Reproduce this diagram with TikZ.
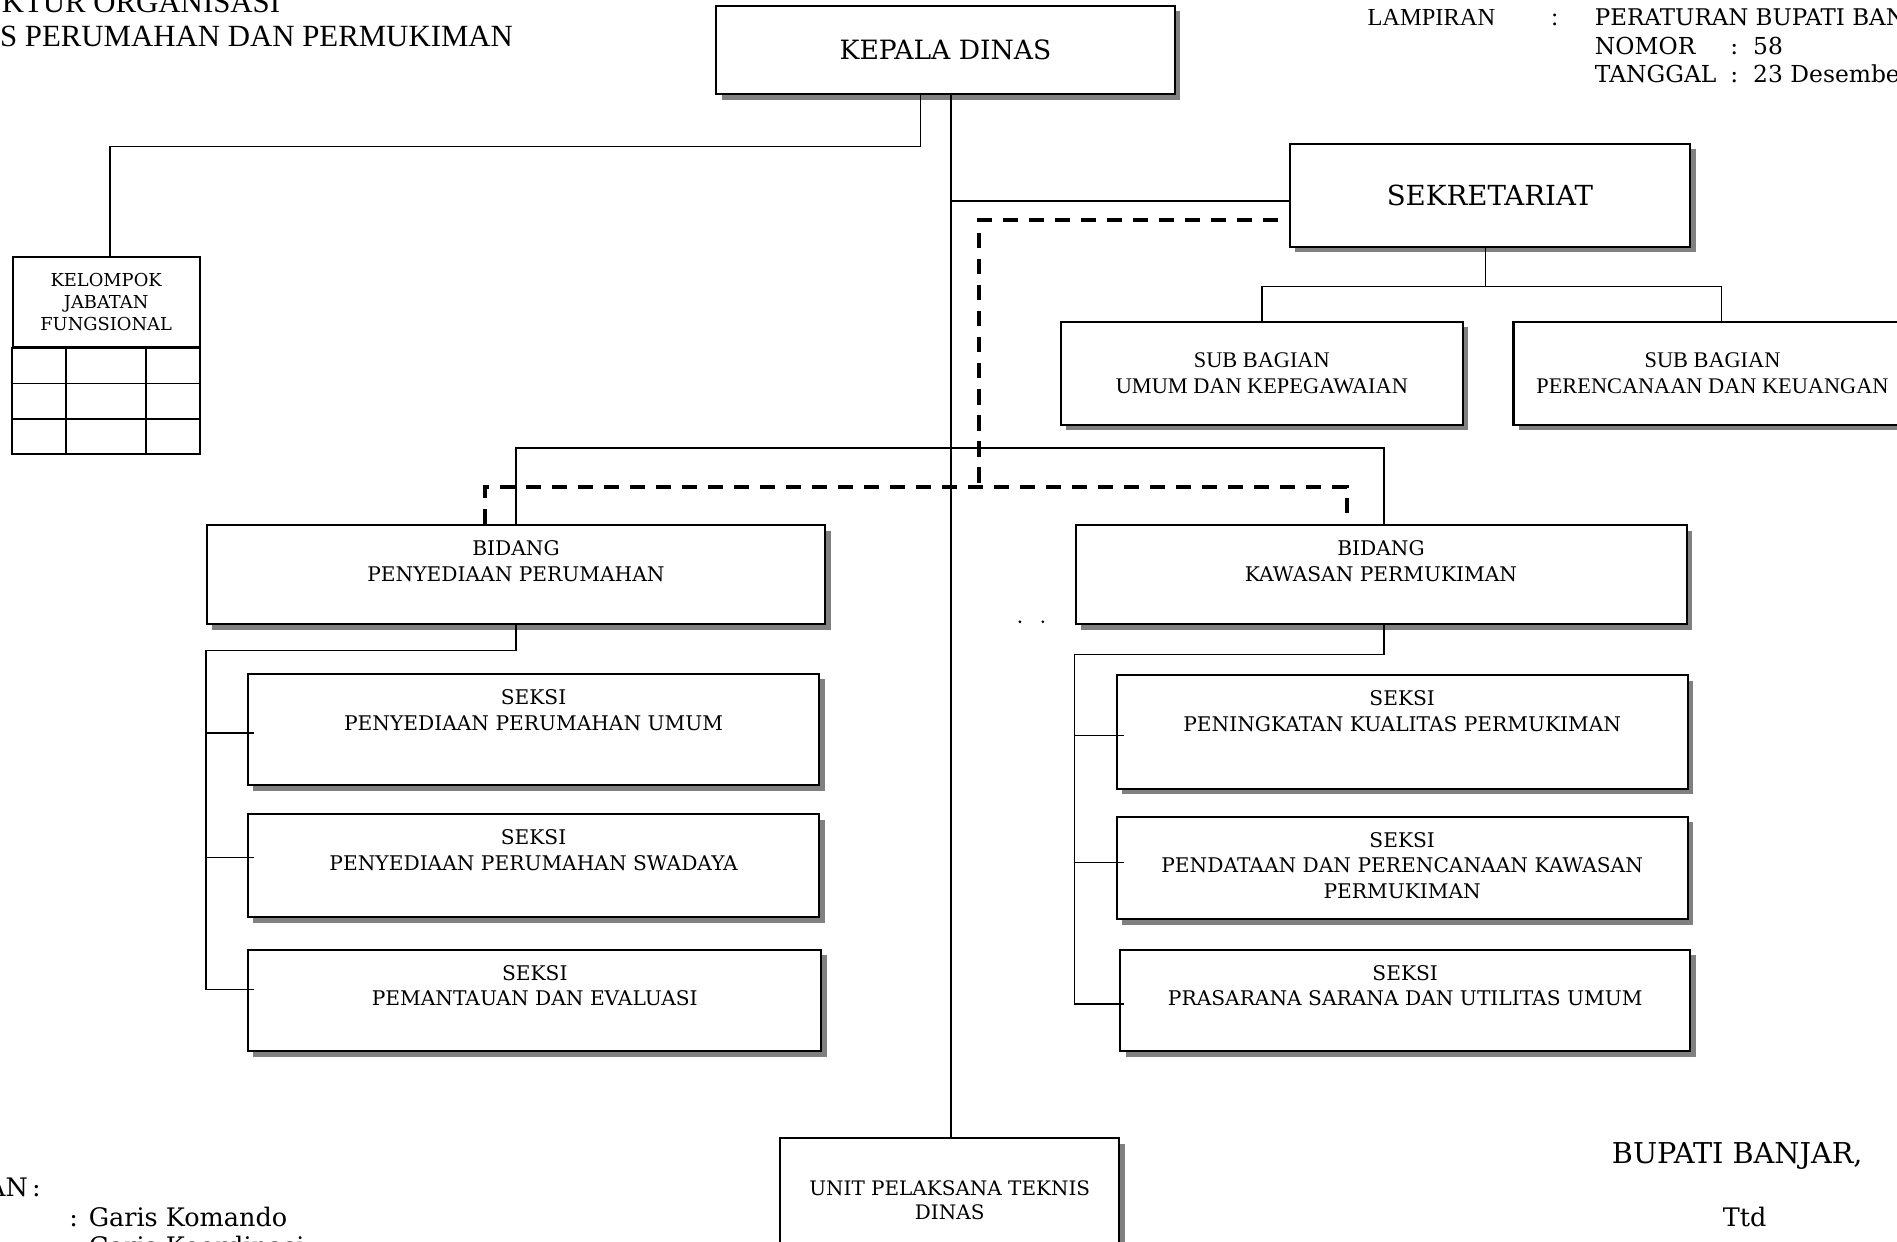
\documentclass[tikz,border=0pt]{standalone}
\usepackage{fontspec}
\setmainfont{DejaVu Serif}
\newfontfamily\timesfont{Liberation Serif}
\usetikzlibrary{positioning,shadows}

\tikzset{
    unitkerja/.style={draw, line width=0.95pt, fill=white, inner sep=0pt,
        drop shadow={shadow xshift=0.9mm, shadow yshift=-0.9mm, fill=black!50, opacity=1}},
    komando/.style={line width=0.65pt},
    koordinasi/.style={line width=1.9pt, dash pattern=on 2.5mm off 1.8mm},
    isi/.style={align=center, inner sep=0pt, font=\fontsize{9.5}{12}\selectfont},
    teks/.style={anchor=base west, inner sep=0pt},
}

\begin{document}
\begin{tikzpicture}[x=0.2mm, y=-0.2mm]
    \path[use as bounding box, fill=white] (0,0) rectangle (1568,1026);
    %% judul dan lampiran
    \node[teks, font=\timesfont\fontsize{14.5}{16}\selectfont] (judul) at (-64,10.5) {STRUKTUR ORGANISASI};
    \node[teks, font=\timesfont\fontsize{14.5}{16}\selectfont] (dinas) at (-64,38.5) {DINAS PERUMAHAN DAN PERMUKIMAN};
    \node[teks, font=\timesfont\fontsize{11.5}{14}\selectfont] (lampiran) at (1130,21) {LAMPIRAN};
    \node[teks, font=\timesfont\fontsize{11.5}{14}\selectfont] (lampiranttk) at (1282,21) {:};
    \node[teks, font=\fontsize{10.8}{13}\selectfont] (perbup) at (1318,21) {PERATURAN BUPATI BANJAR};
    \node[teks, font=\fontsize{11}{13}\selectfont] (nomor) at (1318,45) {NOMOR};
    \node[teks, font=\fontsize{11}{13}\selectfont] (nomorisi) at (1430,45) {:\ \ 58};
    \node[teks, font=\fontsize{11}{13}\selectfont] (tanggal) at (1318,68) {TANGGAL};
    \node[teks, font=\fontsize{11}{13}\selectfont] (tanggalisi) at (1430,68) {:\ \ 23 Desember 2016};

    %% kepala dinas, sekretariat, sub bagian
    \node[unitkerja, minimum width=75.8mm, minimum height=14.6mm, font=\fontsize{12.5}{15}\selectfont] (kadis) at (781.5,41.5) {KEPALA DINAS};
    \node[unitkerja, minimum width=66.2mm, minimum height=17mm, font=\fontsize{13}{15}\selectfont] (sekre) at (1231.5,161.5) {SEKRETARIAT};
    \node[unitkerja, minimum width=66.4mm, minimum height=17mm, align=center, font=\timesfont\fontsize{10.5}{12.5}\selectfont] (subumum) at (1043,308.5) {SUB BAGIAN\\UMUM DAN KEPEGAWAIAN};
    \node[unitkerja, minimum width=65.8mm, minimum height=17mm, align=center, font=\timesfont\fontsize{10.5}{12.5}\selectfont] (subren) at (1415.5,308.5) {SUB BAGIAN\\PERENCANAAN DAN KEUANGAN};

    %% kelompok jabatan fungsional
    \node[draw, line width=0.9pt, minimum width=30.9mm, minimum height=14.9mm, align=center, inner sep=0pt, font=\fontsize{8.4}{10.2}\selectfont] (jafung) at (87.75,249.75) {KELOMPOK\\JABATAN\\FUNGSIONAL};
    \draw[line width=0.9pt] (jafung.south west) rectangle (165,375);
    \foreach \y in {317,346} \draw[line width=0.9pt] (10.5,\y) -- (165,\y);
    \foreach \x in {54.6,120.7} \draw[line width=0.9pt] (\x,287) -- (\x,375);

    %% bidang dan seksi
    \foreach \nama/\x/\y/\w/\h/\isi in {
        bidpp/426.5/475/102.2/16.4/{BIDANG\\PENYEDIAAN PERUMAHAN},
        bidkp/1141.5/475/101/16.4/{BIDANG\\KAWASAN PERMUKIMAN},
        pumum/441/603/94.4/18.4/{SEKSI\\PENYEDIAAN PERUMAHAN UMUM},
        pswadaya/441/715.5/94.4/17/{SEKSI\\PENYEDIAAN PERUMAHAN SWADAYA},
        evaluasi/442/827/94.8/16.8/{SEKSI\\PEMANTAUAN DAN EVALUASI},
        kualitas/1159/605/94.4/18.8/{SEKSI\\PENINGKATAN KUALITAS PERMUKIMAN},
        pendataan/1159/717.5/94.4/17/{SEKSI\\PENDATAAN DAN PERENCANAAN KAWASAN\\PERMUKIMAN},
        psu/1161.5/827/94.2/16.8/{SEKSI\\PRASARANA SARANA DAN UTILITAS UMUM}} {
        \node[unitkerja, minimum width=\w mm, minimum height=\h mm] (\nama) at (\x,\y) {};
        \node[isi, below=2.7mm of \nama.north] (\nama-isi) {\isi};
    }

    %% unit pelaksana teknis
    \node[unitkerja, minimum width=56mm, minimum height=20.4mm, align=center, font=\fontsize{9.4}{11.5}\selectfont] (upt) at (785,992) {UNIT PELAKSANA TEKNIS\\DINAS};

    %% garis komando
    \coordinate (trunk) at (786,0);
    \draw[komando] (trunk |- kadis.south) -- (trunk |- upt.north);
    \draw[komando] ([xshift=-4.1mm]kadis.south) -- ++(0,42) -| ([xshift=0.65mm]jafung.north);
    \draw[komando] (trunk |- 0,166) -- (sekre.west |- 0,166);
    \draw[komando] ([xshift=-0.7mm]sekre.south) -- ++(0,32) coordinate (sj);
    \draw[komando] (subumum.north) |- (sj) -| ([xshift=1.5mm]subren.north);
    \draw[komando] (bidpp.north) -- ++(0,-63) -| ([xshift=0.5mm]bidkp.north);
    \draw[komando] (bidpp.south) -- ++(0,21) -| (bidpp.west |- 0,818) -- ++(40,0);
    \foreach \y in {606,709} \draw[komando] (bidpp.west |- 0,\y) -- ++(40,0);
    \draw[komando] ([xshift=0.5mm]bidkp.south) -- ++(0,24) -| (bidkp.west |- 0,830) -- ++(41,0);
    \foreach \y in {608,713} \draw[komando] (bidkp.west |- 0,\y) -- ++(41,0);

    %% garis koordinasi
    \draw[koordinasi] ([xshift=-1.8mm,yshift=-4.1mm]sekre.west) -| (809,403);
    \draw[koordinasi] ([xshift=-5.1mm]bidpp.north) -- ++(0,-31) -| ([xshift=-5.7mm]bidkp.north);

    \foreach \x in {843,862} \fill (\x,514) circle (0.25mm);

    %% keterangan dan tanda tangan
    \node[anchor=base east, inner sep=0pt, font=\fontsize{12}{14}\selectfont] (ket) at (34,989) {KETERANGAN\,:};
    \node[teks, font=\fontsize{12}{14}\selectfont] (gkomando) at (57,1014) {: Garis Komando};
    \node[teks, font=\fontsize{12}{14}\selectfont] (gkoordinasi) at (57,1038) {: Garis Koordinasi};
    \node[teks, font=\fontsize{13.5}{16}\selectfont] (bupati) at (1332,962) {BUPATI BANJAR,};
    \node[anchor=base, inner sep=0pt, font=\fontsize{12}{14}\selectfont] (ttd) at (1442,1014) {Ttd};
\end{tikzpicture}
\end{document}
